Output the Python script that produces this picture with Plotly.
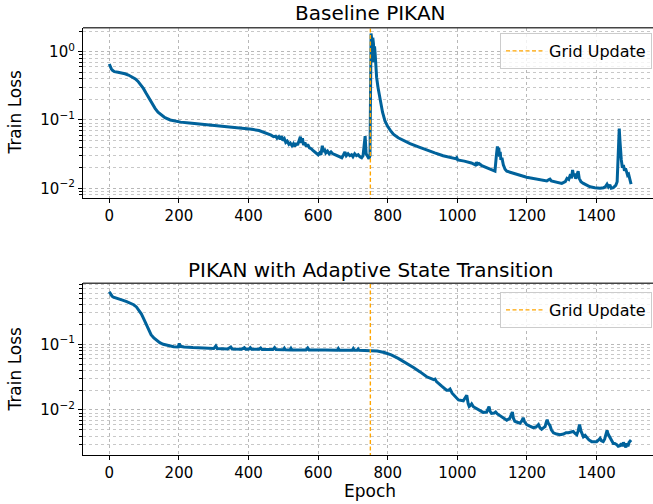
import plotly.graph_objects as go

# ---------------- data ----------------
base_epoch = [0, 3, 6, 10, 15, 25, 35, 45, 55, 65, 75, 82, 90, 98, 105, 112, 118, 125, 132, 140,
              150, 160, 175, 190, 205, 230, 260, 300, 340, 380, 410, 430, 445, 455, 465, 472, 478,
              482, 487, 491, 495, 499, 503, 507, 511, 516, 520, 525, 529, 533, 537, 541, 545, 549,
              552, 555, 558, 562, 566, 570, 575, 580, 585, 590, 595, 600, 604, 608, 612, 615, 618,
              622, 627, 632, 637, 642, 648, 655, 662, 668, 673, 677, 681, 686, 691, 696, 700, 705,
              710, 715, 720, 725, 729, 732, 735, 738, 742, 746, 749, 750, 752, 754, 756, 757, 759,
              760, 762, 764, 766, 768, 772, 778, 785, 792, 800, 808, 816, 830, 845, 864, 890, 912,
              935, 959, 980, 995, 998, 1001, 1020, 1040, 1052, 1055, 1058, 1062, 1070, 1085, 1100,
              1108, 1112, 1115, 1117, 1119, 1121, 1123, 1125, 1128, 1132, 1137, 1142, 1160, 1180,
              1199, 1220, 1240, 1257, 1262, 1266, 1270, 1285, 1300, 1310, 1315, 1320, 1325, 1328,
              1331, 1334, 1337, 1340, 1344, 1347, 1350, 1355, 1362, 1372, 1381, 1395, 1410, 1420,
              1425, 1430, 1434, 1438, 1442, 1448, 1455, 1459, 1462, 1465, 1467, 1469, 1471, 1474,
              1477, 1480, 1483, 1486, 1489, 1492, 1495, 1497, 1499]
base_loss = [0.66, 0.60, 0.56, 0.53, 0.51, 0.50, 0.49, 0.475, 0.455, 0.43, 0.40, 0.37, 0.33, 0.29,
             0.25, 0.215, 0.19, 0.165, 0.147, 0.13, 0.117, 0.108, 0.100, 0.096, 0.093, 0.090, 0.087,
             0.084, 0.080, 0.076, 0.073, 0.070, 0.066, 0.063, 0.060, 0.057, 0.058, 0.054, 0.057,
             0.052, 0.058, 0.050, 0.053, 0.047, 0.049, 0.044, 0.046, 0.042, 0.045, 0.041, 0.046,
             0.043, 0.050, 0.057, 0.046, 0.054, 0.043, 0.047, 0.041, 0.044, 0.039, 0.038, 0.036,
             0.034, 0.032, 0.031, 0.033, 0.031, 0.042, 0.034, 0.038, 0.033, 0.035, 0.032, 0.034,
             0.032, 0.031, 0.030, 0.029, 0.028, 0.031, 0.034, 0.030, 0.032, 0.030, 0.031, 0.029,
             0.032, 0.030, 0.031, 0.029, 0.028, 0.030, 0.045, 0.058, 0.032, 0.029, 0.027, 0.030,
             1.7, 1.85, 1.5, 0.9, 1.6, 1.3, 0.7, 1.2, 0.9, 0.6, 0.42, 0.30, 0.19, 0.13, 0.097,
             0.080, 0.070, 0.062, 0.055, 0.050, 0.045, 0.040, 0.036, 0.033, 0.030, 0.028, 0.0272,
             0.028, 0.026, 0.025, 0.0235, 0.022, 0.024, 0.0225, 0.023, 0.0215, 0.020, 0.0185,
             0.0178, 0.030, 0.041, 0.035, 0.039, 0.029, 0.034, 0.026, 0.028, 0.022, 0.019, 0.0178,
             0.0165, 0.0155, 0.0145, 0.0138, 0.0132, 0.0128, 0.0133, 0.0136, 0.0128, 0.0122,
             0.0118, 0.0125, 0.014, 0.0135, 0.016, 0.014, 0.0185, 0.015, 0.0165, 0.0138, 0.016,
             0.0178, 0.014, 0.0125, 0.0118, 0.011, 0.0105, 0.0102, 0.0100, 0.0102, 0.0105, 0.0115,
             0.0105, 0.0112, 0.0100, 0.0102, 0.011, 0.0125, 0.030, 0.075, 0.050, 0.032, 0.026,
             0.020, 0.022, 0.018, 0.0195, 0.0175, 0.0155, 0.016, 0.0135, 0.0125, 0.0115]

ast_epoch = [0, 4, 8, 12, 20, 30, 40, 50, 60, 70, 78, 85, 92, 98, 103, 108, 113, 120, 128, 136,
             145, 155, 170, 185, 198, 201, 204, 215, 240, 270, 300, 306, 310, 340, 349, 353, 380,
             388, 392, 400, 405, 409, 430, 435, 439, 470, 475, 479, 500, 503, 506, 519, 522, 525,
             565, 570, 574, 620, 655, 658, 661, 698, 701, 704, 712, 715, 718, 750, 770, 790, 810,
             830, 845, 860, 875, 893, 912, 925, 932, 936, 940, 955, 969, 975, 979, 985, 995, 1003,
             1017, 1022, 1027, 1031, 1034, 1038, 1041, 1046, 1055, 1065, 1074, 1084, 1088, 1091,
             1094, 1098, 1106, 1110, 1115, 1122, 1132, 1142, 1150, 1155, 1158, 1161, 1165, 1172,
             1180, 1185, 1189, 1193, 1199, 1208, 1218, 1226, 1230, 1233, 1237, 1242, 1248, 1252,
             1255, 1258, 1261, 1266, 1270, 1276, 1285, 1295, 1305, 1312, 1319, 1326, 1333, 1338,
             1343, 1347, 1351, 1355, 1359, 1362, 1367, 1372, 1378, 1386, 1393, 1400, 1406, 1410,
             1414, 1419, 1423, 1427, 1430, 1433, 1438, 1443, 1448, 1452, 1457, 1462, 1467, 1471,
             1474, 1477, 1481, 1484, 1487, 1490, 1493, 1496, 1499]
ast_loss = [0.63, 0.57, 0.54, 0.52, 0.50, 0.48, 0.465, 0.445, 0.425, 0.40, 0.37, 0.33, 0.29, 0.25,
            0.22, 0.19, 0.163, 0.14, 0.125, 0.114, 0.106, 0.100, 0.095, 0.092, 0.091, 0.103, 0.093,
            0.091, 0.089, 0.087, 0.086, 0.094, 0.086, 0.085, 0.091, 0.085, 0.084, 0.089, 0.084,
            0.084, 0.089, 0.084, 0.084, 0.088, 0.0835, 0.083, 0.089, 0.083, 0.0825, 0.087, 0.0825,
            0.082, 0.087, 0.082, 0.082, 0.088, 0.082, 0.0815, 0.081, 0.086, 0.081, 0.081, 0.086,
            0.081, 0.081, 0.085, 0.081, 0.080, 0.079, 0.075, 0.069, 0.061, 0.055, 0.049, 0.044,
            0.038, 0.032, 0.030, 0.029, 0.0295, 0.027, 0.023, 0.020, 0.020, 0.0208, 0.018, 0.0155,
            0.0142, 0.0138, 0.015, 0.0168, 0.0125, 0.0113, 0.0118, 0.0124, 0.0112, 0.0106, 0.0099,
            0.0092, 0.0093, 0.0102, 0.0113, 0.0095, 0.0089, 0.0090, 0.0093, 0.0087, 0.0082, 0.0076,
            0.0070, 0.0074, 0.0086, 0.0093, 0.0075, 0.0067, 0.0065, 0.0063, 0.0068, 0.0076, 0.0066,
            0.0060, 0.0057, 0.0054, 0.0055, 0.0058, 0.0060, 0.0054, 0.0051, 0.0054, 0.0056, 0.0064,
            0.0071, 0.0063, 0.0058, 0.0050, 0.0045, 0.0043, 0.0042, 0.0043, 0.0045, 0.0045, 0.0046,
            0.0047, 0.0044, 0.0042, 0.0048, 0.0060, 0.0048, 0.0041, 0.0039, 0.0041, 0.0038, 0.0035,
            0.0033, 0.0033, 0.0033, 0.0035, 0.0037, 0.0034, 0.0033, 0.0036, 0.0045, 0.0049, 0.0043,
            0.0038, 0.0034, 0.0031, 0.0031, 0.0030, 0.0028, 0.00286, 0.0031, 0.0028, 0.0032, 0.0029,
            0.0027, 0.0031, 0.0028, 0.0032, 0.0033, 0.0035]

grid_update_epoch = 750
x_ticks = [0, 200, 400, 600, 800, 1000, 1200, 1400]
top_major = [0.01, 0.1, 1.0]
top_major_text = ["10<sup>−2</sup>", "10<sup>−1</sup>", "10<sup>0</sup>"]
bot_major = [0.01, 0.1]
bot_major_text = ["10<sup>−2</sup>", "10<sup>−1</sup>"]
top_minor = [m * d for d in (0.001, 0.01, 0.1, 1.0) for m in range(2, 10) if 0.0072 < m * d < 2.24]
bot_minor = [m * d for d in (0.001, 0.01, 0.1) for m in range(2, 10) if 0.00207 < m * d < 0.847]
titles = ["Baseline PIKAN", "PIKAN with Adaptive State Transition"]

# ---------------- figure ----------------
W, H = 653, 504
LINE = "#00629b"
ORANGE = "#ffa500"
FONT = "DejaVu Sans"

def px_x(x):
    return x / W

def px_y(y):
    return 1 - y / H

fig = go.Figure()

fig.add_trace(go.Scatter(x=base_epoch, y=base_loss, mode="lines", line=dict(color=LINE, width=3),
                         xaxis="x", yaxis="y", showlegend=False))
fig.add_trace(go.Scatter(x=[grid_update_epoch, grid_update_epoch], y=[1e-4, 1e2], mode="lines",
                         line=dict(color=ORANGE, width=1.4, dash="4px,2.5px"), name="Grid Update",
                         xaxis="x", yaxis="y", legend="legend"))
fig.add_trace(go.Scatter(x=ast_epoch, y=ast_loss, mode="lines", line=dict(color=LINE, width=3),
                         xaxis="x2", yaxis="y2", showlegend=False))
fig.add_trace(go.Scatter(x=[grid_update_epoch, grid_update_epoch], y=[1e-4, 1e2], mode="lines",
                         line=dict(color=ORANGE, width=1.4, dash="4px,2.5px"), name="Grid Update",
                         xaxis="x2", yaxis="y2", legend="legend2"))

xdom = [px_x(83), 1.0]
top_dom = [px_y(198), px_y(27.7)]
bot_dom = [px_y(455), px_y(283.3)]
xrange = [-75.5, 1562]

common_x = dict(range=xrange, tickvals=x_ticks, ticks="outside", ticklen=4, tickwidth=1,
                tickcolor="black", showline=True, linecolor="black", linewidth=1.2,
                showgrid=True, gridcolor="#b8b8b8", gridwidth=1, griddash="dot",
                tickfont=dict(family=FONT, size=15, color="black"), zeroline=False)
common_y = dict(type="log", ticks="outside", ticklen=4, tickwidth=1, tickcolor="black",
                showline=True, linecolor="black", linewidth=1.2, showgrid=True,
                gridcolor="#b8b8b8", gridwidth=1, griddash="dot",
                tickfont=dict(family=FONT, size=15, color="black"), zeroline=False)

leg_common = dict(xanchor="right", yanchor="top", bgcolor="rgba(255,255,255,0.8)",
                  bordercolor="#cccccc", borderwidth=1, itemwidth=38,
                  font=dict(family=FONT, size=16, color="black"))

fig.update_layout(
    width=W, height=H, margin=dict(l=0, r=0, t=0, b=0),
    paper_bgcolor="white", plot_bgcolor="white",
    xaxis=dict(domain=xdom, anchor="y", **common_x),
    yaxis=dict(domain=top_dom, anchor="x", range=[-2.142, 0.351], tickmode="array",
               tickvals=top_major, ticktext=top_major_text,
               minor=dict(tickmode="array", tickvals=top_minor, ticks="outside", ticklen=2.5,
                          tickcolor="black", showgrid=True, gridcolor="#c8c8c8", griddash="dot",
                          gridwidth=1),
               **common_y),
    xaxis2=dict(domain=xdom, anchor="y2", **common_x),
    yaxis2=dict(domain=bot_dom, anchor="x2", range=[-2.685, -0.072], tickmode="array",
                tickvals=bot_major, ticktext=bot_major_text,
                minor=dict(tickmode="array", tickvals=bot_minor, ticks="outside", ticklen=2.5,
                           tickcolor="black", showgrid=True, gridcolor="#c8c8c8", griddash="dot",
                           gridwidth=1),
                **common_y),
    legend=dict(x=px_x(652), y=px_y(33), **leg_common),
    legend2=dict(x=px_x(652), y=px_y(292), **leg_common),
    font=dict(family=FONT, color="black"),
)

# top spines
for ytop in (27.7, 283.3):
    fig.add_shape(type="line", xref="paper", yref="paper", x0=px_x(83), x1=1.0,
                  y0=px_y(ytop), y1=px_y(ytop), line=dict(color="#444444", width=1.5))

ann = [
    dict(text=titles[0], x=px_x(370), y=px_y(12.5), size=20, angle=0),
    dict(text=titles[1], x=px_x(370), y=px_y(270), size=20, angle=0),
    dict(text="Train Loss", x=px_x(14.5), y=px_y(112), size=17, angle=-90),
    dict(text="Train Loss", x=px_x(14.5), y=px_y(369), size=17, angle=-90),
    dict(text="Epoch", x=px_x(370), y=px_y(491), size=17, angle=0),
]
for a in ann:
    fig.add_annotation(text=a["text"], x=a["x"], y=a["y"], xref="paper", yref="paper",
                       xanchor="center", yanchor="middle", showarrow=False, textangle=a["angle"],
                       font=dict(family=FONT, size=a["size"], color="black"))

fig.write_html("out.html", config={"displayModeBar": False},
               post_script="document.body.style.margin='0';document.body.style.padding='0';")
